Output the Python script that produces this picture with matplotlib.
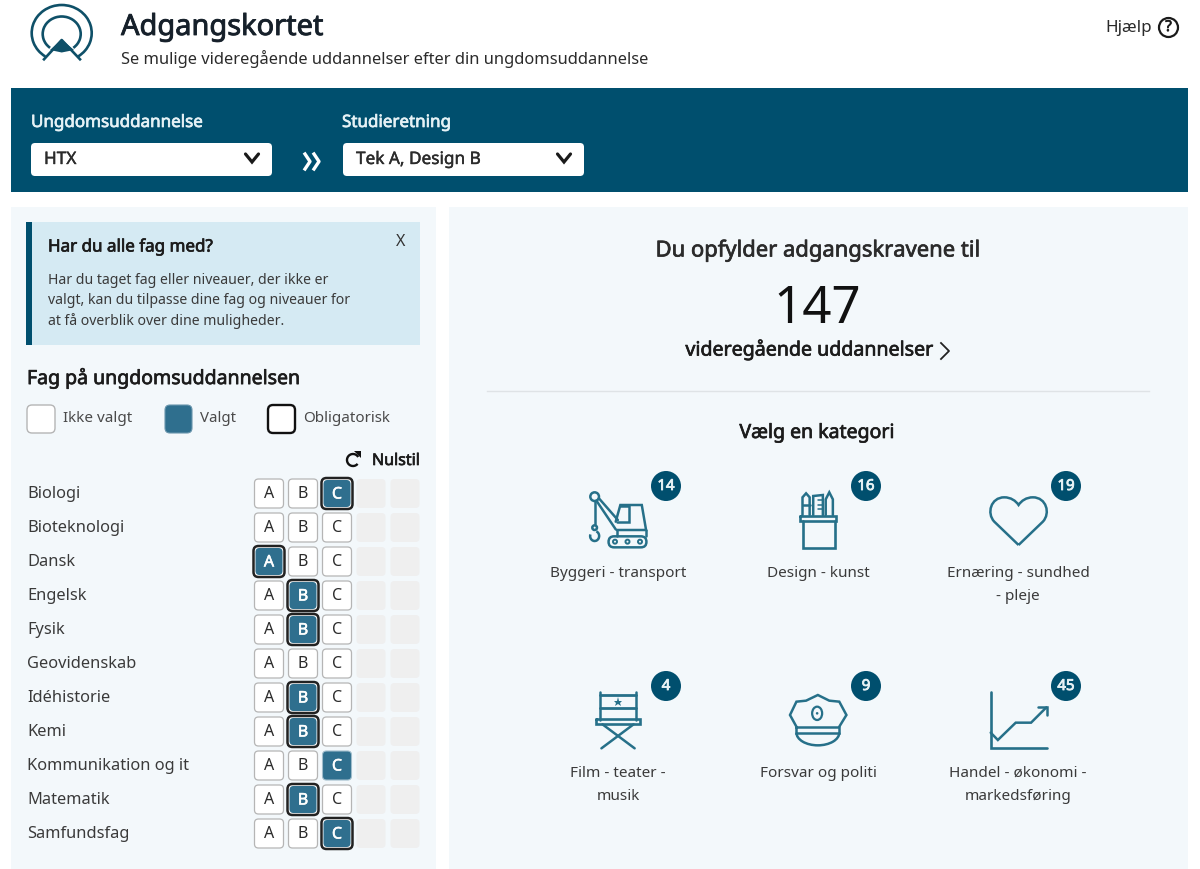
import matplotlib
matplotlib.use("Agg")
import matplotlib.pyplot as plt
import matplotlib.patheffects as pe
from matplotlib.patches import Circle, Ellipse, FancyBboxPatch, PathPatch, Polygon, Rectangle, Arc
from matplotlib.path import Path

subjects = ["Biologi", "Bioteknologi", "Dansk", "Engelsk", "Fysik", "Geovidenskab",
            "Idéhistorie", "Kemi", "Kommunikation og it", "Matematik", "Samfundsfag"]
levels = ["A", "B", "C"]
chosen = ["C", None, "A", "B", "B", None, "B", "B", "C", "B", "C"]
mandatory = [True, False, True, True, True, False, True, True, False, True, True]

category_names = ["Byggeri - transport", "Design - kunst", "Ernæring - sundhed\n- pleje",
                  "Film - teater -\nmusik", "Forsvar og politi", "Handel - økonomi -\nmarkedsføring"]
category_counts = [14, 16, 19, 4, 9, 45]
total_count = 147

DARK = "#004f6e"
TEAL = "#2f6f8e"
ICON = "#267089"
PANEL = "#f3f8fb"
TEXT = "#2b2b2b"

plt.rcParams["font.family"] = ["Noto Sans", "DejaVu Sans"]

fig = plt.figure(figsize=(12, 8.69), dpi=100)
ax = fig.add_axes([0, 0, 1, 1])
ax.set_xlim(0, 1200)
ax.set_ylim(869, 0)
ax.axis("off")


def px(size):
    return size * 0.72


def box(x0, y0, x1, y1, color, edge="none", lw=0, r=4, z=2):
    ax.add_patch(FancyBboxPatch((x0, y0), x1 - x0, y1 - y0, boxstyle="round,pad=0,rounding_size=%s" % r,
                                fc=color, ec=edge, lw=lw, zorder=z))


def txt(x, y, s, size=15, color=TEXT, bold=0, ha="left"):
    # no heavier cut of the font here, so a thin stroke thickens the headings
    t = ax.text(x, y + 2.5, s, fontsize=px(size), color=color, ha=ha, va="center", zorder=6)
    if bold:
        t.set_path_effects([pe.withStroke(linewidth=bold, foreground=color)])


def chevron(x, y, w, h, color, lw):
    ax.plot([x - w, x, x + w], [y - h, y + h, y - h], color=color, lw=lw, solid_capstyle="round",
            solid_joinstyle="miter", zorder=6)


SX = 2.8
SY = 3.0
LW = 1.8


def zl(ox, oy, xs, ys, color=ICON, lw=LW):
    ax.plot([ox + v / SX for v in xs], [oy + v / SY for v in ys], color=color, lw=lw, zorder=5,
            solid_capstyle="round", solid_joinstyle="miter")


def zcircle(ox, oy, x, y, r, color=ICON, lw=LW):
    ax.add_patch(Circle((ox + x / SX, oy + y / SY), r / SY, fc="none", ec=color, lw=lw, zorder=5))


def crane(ox, oy):
    zcircle(ox, oy, 153, 110, 13)
    zl(ox, oy, [153, 153], [122, 192])
    zcircle(ox, oy, 153, 203, 7)
    ax.add_patch(Arc((ox + 153 / SX, oy + 228 / SY), 9, 10, theta1=-70, theta2=200, ec=ICON, lw=LW, zorder=5))
    zl(ox, oy, [165, 218], [115, 180])
    zl(ox, oy, [158, 212], [122, 208])
    zl(ox, oy, [212, 225, 285, 297, 215], [185, 135, 135, 210, 210])
    zl(ox, oy, [215, 250, 250, 225], [187, 187, 137, 137])
    zl(ox, oy, [215, 215], [210, 228])
    zl(ox, oy, [297, 297], [210, 228])
    ax.add_patch(FancyBboxPatch((ox + 192 / SX, oy + 229 / SY), 106 / SX, 33 / SY,
                                boxstyle="round,pad=0,rounding_size=5.5", fc="none", ec=ICON, lw=LW, zorder=5))
    for x in [210, 245, 280]:
        zcircle(ox, oy, x, 245, 6, lw=1.4)


def cup(ox, oy):
    zl(ox, oy, [735, 735, 825, 825], [182, 265, 265, 182], lw=1.9)
    zl(ox, oy, [728, 830, 830, 728, 728], [167, 167, 182, 182, 167], lw=1.9)
    zl(ox, oy, [800, 800, 810, 820, 820], [165, 118, 97, 118, 165])
    zl(ox, oy, [765, 765, 792, 792], [165, 108, 105, 165])
    for y in [120, 134, 148]:
        zl(ox, oy, [778, 792], [y, y], lw=1.1)
    zl(ox, oy, [735, 735, 745, 755, 755], [165, 112, 100, 112, 165])
    zl(ox, oy, [735, 755], [135, 135])


def heart(ox, oy):
    pts = [(1340, 255), (1272, 185), (1250, 160), (1262, 112), (1300, 112), (1318, 112), (1332, 122), (1340, 135),
           (1348, 122), (1362, 112), (1380, 112), (1418, 112), (1430, 160), (1408, 185), (1340, 255)]
    codes = [Path.MOVETO, Path.LINETO, Path.CURVE4, Path.CURVE4, Path.CURVE4, Path.CURVE4, Path.CURVE4, Path.CURVE4,
             Path.CURVE4, Path.CURVE4, Path.CURVE4, Path.CURVE4, Path.CURVE4, Path.CURVE4, Path.LINETO]
    verts = [(ox + x / SX, oy + y / SY) for x, y in pts]
    ax.add_patch(PathPatch(Path(verts, codes), fc="none", ec=ICON, lw=LW, zorder=5))


def chair(ox, oy):
    zl(ox, oy, [168, 168], [97, 180])
    zl(ox, oy, [268, 268], [97, 180])
    zl(ox, oy, [168, 268], [106, 106], lw=2.0)
    zl(ox, oy, [168, 268], [144, 144], lw=2.0)
    zl(ox, oy, [157, 280, 280, 157, 157], [178, 178, 193, 193, 178], lw=1.9)
    zl(ox, oy, [175, 265], [193, 265])
    zl(ox, oy, [262, 172], [193, 265])
    ax.plot([ox + 218 / SX], [oy + 125 / SY], marker="*", ms=6.5, color=ICON, mew=0, zorder=5)


def cap(ox, oy):
    zl(ox, oy, [718, 700, 718, 745, 778, 810, 838, 858, 838],
       [200, 165, 125, 122, 105, 122, 125, 165, 200])
    zl(ox, oy, [718, 838, 838, 718, 718], [200, 200, 218, 218, 200])
    ax.add_patch(Arc((ox + 778 / SX, oy + 218 / SY), 120 / SX, 76 / SY, theta1=0, theta2=180, ec=ICON, lw=LW, zorder=5))
    ax.add_patch(Ellipse((ox + 776 / SX, oy + 160 / SY), 28 / SX, 40 / SY, fc="none", ec=ICON, lw=1.6, zorder=5))
    ax.add_patch(Circle((ox + 776 / SX, oy + 160 / SY), 1.3, fc=ICON, ec="none", zorder=5))


def growth(ox, oy):
    zl(ox, oy, [1262, 1262, 1420], [97, 265, 265], lw=1.9)
    zl(ox, oy, [1262, 1282, 1332, 1375, 1418], [218, 240, 188, 188, 142])
    zl(ox, oy, [1395, 1420, 1420], [142, 142, 165])


# header
logo = "#0f5068"
ax.add_patch(Arc((61.7, 33), 60, 56, theta1=125, theta2=55, ec=logo, lw=1.9, zorder=5))
ax.add_patch(Arc((61.7, 34), 38, 35, theta1=130, theta2=50, ec=logo, lw=1.9, zorder=5))
ax.plot([44, 61.7, 80], [59.3, 40, 59.3], color=logo, lw=1.9, zorder=5)
ax.add_patch(Polygon([(61.7, 39.5), (50, 50), (61.7, 52.5), (74, 50)], fc=logo, ec="none", zorder=5))
txt(121, 25, "Adgangskortet", size=29, color="#16202a", bold=0.6)
txt(121, 56.5, "Se mulige videregående uddannelser efter din ungdomsuddannelse", size=16.5)
txt(1105, 25, "Hjælp", size=17)
ax.add_patch(Circle((1168.5, 27.5), 9.5, fc="none", ec="#1a1a1a", lw=1.6, zorder=5))
txt(1168.5, 25, "?", size=15, color="#1a1a1a", bold=0.5, ha="center")

# top banner with the two dropdowns
ax.add_patch(Rectangle((11, 88), 1177, 104, fc=DARK, ec="none", zorder=1))
txt(31, 120.5, "Ungdomsuddannelse", size=17, color="#e6f2f6", bold=0.5)
txt(342, 120.5, "Studieretning", size=17, color="#e6f2f6", bold=0.5)
box(31, 143, 272, 176, "white", r=4)
box(343, 143, 584, 176, "white", r=4)
txt(44, 156.5, "HTX", size=17.2, bold=0.3)
txt(356, 156.5, "Tek A, Design B", size=17.2, bold=0.3)
chevron(252, 158, 6.5, 4, "#1a1a1a", 2.3)
chevron(564, 158, 6.5, 4, "#1a1a1a", 2.3)
for x in [309, 318]:
    ax.plot([x - 4, x + 1, x - 4], [154, 161.5, 169], color="white", lw=2.4, zorder=6)

# panels
ax.add_patch(Rectangle((11, 207), 425, 662, fc=PANEL, ec="none", zorder=1))
ax.add_patch(Rectangle((449, 207), 739, 662, fc=PANEL, ec="none", zorder=1))

# info box
ax.add_patch(Rectangle((26, 222), 394, 123, fc="#d5eaf3", ec="none", zorder=2))
ax.add_patch(Rectangle((26, 222), 6, 123, fc=DARK, ec="none", zorder=3))
txt(48, 245, "Har du alle fag med?", size=17, bold=0.5, color="#1c1c1c")
txt(396, 239, "X", size=16, color="#333333")
txt(48, 278.5, "Har du taget fag eller niveauer, der ikke er", size=14.1, color="#3a3a3a")
txt(48, 298.5, "valgt, kan du tilpasse dine fag og niveauer for", size=14.1, color="#3a3a3a")
txt(48, 318.5, "at få overblik over dine muligheder.", size=14.1, color="#3a3a3a")

txt(27, 375.5, "Fag på ungdomsuddannelsen", size=19.5, bold=0.5, color="#1c1c1c")

# legend
box(27, 405, 55, 433, "white", edge="#b5b5b5", lw=1.0, r=5)
box(165, 405, 192, 433, TEAL, edge="#6a96ad", lw=0.8, r=5)
box(268, 405, 295, 433, "white", edge="#111111", lw=1.7, r=5)
txt(63, 416.5, "Ikke valgt", size=15.3, color="#4a4a4a")
txt(200, 416.5, "Valgt", size=15, color="#4a4a4a")
txt(303, 416.5, "Obligatorisk", size=15.2, color="#4a4a4a")

# reset link
ax.add_patch(Arc((353, 460), 12, 12, theta1=40, theta2=330, ec="#111111", lw=1.7, zorder=5))
ax.add_patch(Polygon([(354, 451), (361, 451), (361, 458)], fc="#111111", ec="none", zorder=5))
txt(372, 458.5, "Nulstil", size=16, bold=0.5, color="#1c1c1c")

# subject grid
row_y = [493.5, 527.5, 561.5, 595.5, 629.5, 663.5, 697.5, 731.5, 765.5, 799.5, 833.5]
cell_x = [269, 303, 337]
empty_x = [371, 405]
half = 14.5
for i, name in enumerate(subjects):
    y = row_y[i]
    txt(27, y - 2.5, name, size=16.4, color="#3a3a3a")
    for x in empty_x:
        box(x - half, y - half, x + half, y + half, "#efefef", r=4)
    for x, level in zip(cell_x, levels):
        if chosen[i] == level:
            if mandatory[i]:
                box(x - half - 1, y - half - 1, x + half + 1, y + half + 1, "white", edge="#222222", lw=1.8, r=5, z=3)
                box(x - half + 1, y - half + 1, x + half - 1, y + half - 1, TEAL, r=4, z=4)
            else:
                box(x - half, y - half, x + half, y + half, TEAL, edge="#9fbccb", lw=0.8, r=4, z=3)
            txt(x, y - 1.5, level, size=16, color="white", bold=0.4, ha="center")
        else:
            box(x - half, y - half, x + half, y + half, "white", edge="#b5b5b5", lw=0.9, r=4, z=3)
            txt(x, y - 1.5, level, size=16, color="#2b2b2b", ha="center")

# result summary
txt(818, 248.5, "Du opfylder adgangskravene til", size=22, bold=0.5, ha="center")
txt(817, 307, str(total_count), size=51, color="#111111", ha="center")
txt(810, 347, "videregående uddannelser", size=19.6, bold=0.5, ha="center", color="#1c1c1c")
ax.plot([941, 949, 941], [343, 351, 359], color="#222222", lw=1.3, zorder=6)
ax.plot([487, 1149], [390.5, 390.5], color="#dfe3e6", lw=1.0, zorder=3)
txt(817, 430.5, "Vælg en kategori", size=19.5, bold=0.5, ha="center", color="#1c1c1c")

# categories
icons = [crane, cup, heart, chair, cap, growth]
icon_offset = [(540, 460), (540, 460), (540, 460), (540, 660), (540, 660), (540, 660)]
badge_x = [666, 866, 1066, 666, 866, 1066]
badge_y = [486, 486, 486, 686, 686, 686]
label_x = [618, 818, 1018, 618, 818, 1018]
label_y = [571, 571, 571, 771, 771, 771]
for i in range(6):
    icons[i](*icon_offset[i])
    ax.add_patch(Circle((badge_x[i], badge_y[i]), 15, fc=DARK, ec="none", zorder=5))
    txt(badge_x[i], badge_y[i] - 2, str(category_counts[i]), size=15, color="#e8f2f5", bold=0.6, ha="center")
    for j, line in enumerate(category_names[i].split("\n")):
        txt(label_x[i], label_y[i] + 22.5 * j, line, size=15.3, color="#3a3a3a", ha="center")

fig.savefig("out.png", dpi=100)
